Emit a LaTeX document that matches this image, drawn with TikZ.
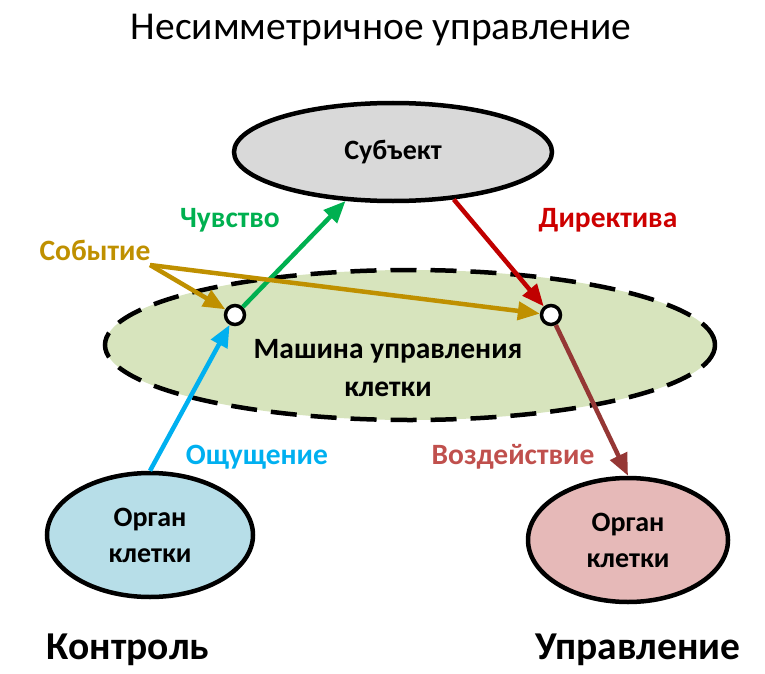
\documentclass[tikz,border=0pt]{standalone}
\usepackage{fontspec}
\setmainfont{Carlito}
\usetikzlibrary{shapes.geometric,arrows.meta}
\definecolor{subjfill}{HTML}{D9D9D9}
\definecolor{machfill}{HTML}{D7E4BD}
\definecolor{orgblue}{HTML}{B7DEE8}
\definecolor{orgred}{HTML}{E6B9B8}
\definecolor{feelgreen}{HTML}{00B050}
\definecolor{senseblue}{HTML}{00B0F0}
\definecolor{dirred}{HTML}{C00000}
\definecolor{actbrown}{HTML}{953735}
\definecolor{actlabel}{HTML}{C0504D}
\definecolor{eventgold}{HTML}{BF9000}
\begin{document}
\begin{tikzpicture}[x=1pt, y=-1pt,
	bubble/.style={draw=black, ellipse, line width=4.5pt, inner sep=0pt, align=center, font=\fontsize{28}{36}\selectfont\bfseries},
	joint/.style={draw=black, circle, fill=white, line width=3.5pt, minimum size=19pt, inner sep=0pt},
	flow/.style={line width=4.5pt, -{Triangle[length=22pt, width=18pt]}},
	lbl/.style={font=\fontsize{29.5}{34}\selectfont\bfseries}]
	\useasboundingbox (0,0) rectangle (765,674);
	\node[font=\fontsize{39.5}{44}\selectfont] (Titel) at (381, 30) {Несимметричное управление};
	\node[bubble, fill=machfill, dash pattern=on 26pt off 14pt, minimum width=610pt, minimum height=150pt] (Maschine) at (410, 345) {};
	\node[font=\fontsize{29.5}{38}\selectfont\bfseries, align=center] (MaschineText) at (388, 368) {Машина управления\\клетки};
	\node[bubble, fill=subjfill, minimum width=318pt, minimum height=98pt] (Subjekt) at (393, 152) {Субъект};
	\node[bubble, fill=orgblue, minimum width=206pt, minimum height=124pt] (OrganL) at (150, 535) {Орган\\клетки};
	\node[bubble, fill=orgred, minimum width=200pt, minimum height=124pt] (OrganR) at (628, 540) {Орган\\клетки};
	\node[joint] (KnotenL) at (235, 315) {};
	\node[joint] (KnotenR) at (551, 315) {};
	\coordinate (Ereignis) at (150, 265);
	\draw[flow, senseblue] (OrganL.north) -- (KnotenL);
	\draw[flow, feelgreen] (KnotenL) -- (Subjekt);
	\draw[flow, dirred] (Subjekt.-38) -- (KnotenR);
	\draw[flow, actbrown] (KnotenR) -- (OrganR.north);
	\draw[flow, eventgold] (Ereignis) -- (KnotenL);
	\draw[flow, eventgold] (Ereignis) -- (KnotenR);
	\node[lbl, feelgreen] (Chuvstvo) at (230, 220) {Чувство};
	\node[lbl, dirred!80!red] (Direktiva) at (608, 220) {Директива};
	\node[lbl, eventgold] (Sobytie) at (95, 250) {Событие};
	\node[lbl, senseblue] (Oshch) at (257, 457) {Ощущение};
	\node[lbl, actlabel] (Vozd) at (513, 457) {Воздействие};
	\node[font=\fontsize{39.5}{44}\selectfont\bfseries] (Kontrol) at (128, 650) {Контроль};
	\node[font=\fontsize{39.5}{44}\selectfont\bfseries] (Upravl) at (638, 650) {Управление};
\end{tikzpicture}
\end{document}
